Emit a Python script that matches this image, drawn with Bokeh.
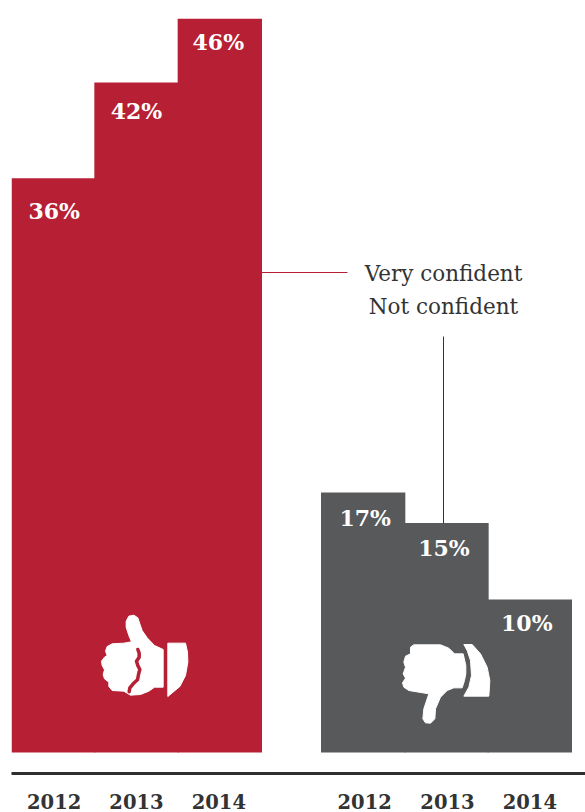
from bokeh.embed import file_html
from bokeh.resources import INLINE
from bokeh.models import ColumnDataSource, Range1d, FixedTicker
from bokeh.plotting import figure
from bokeh.core.properties import value

# Survey results by year
years = ["2012", "2013", "2014"]
very_confident = [36, 42, 46]
not_confident = [17, 15, 10]
legend_labels = ["Very confident", "Not confident"]

RED = "#B72034"
GREY = "#58595B"
INK = "#333333"
SERIF = "DejaVu Serif"

WIDTH, HEIGHT = 585, 812
LEFT, RULE_Y, BASE_Y = 11, 773, 752
BAR_W = 83.33
BAR_OVERLAP = 1.0
GROUP_STARTS = [11, 321]
PX_PER_UNIT_LEFT = 15.95
PX_PER_UNIT_RIGHT = 15.3


def value_range(px_per_unit):
    return Range1d(-(RULE_Y - BASE_Y) / px_per_unit, BASE_Y / px_per_unit)


p = figure(width=WIDTH, height=HEIGHT, output_backend="svg", toolbar_location=None,
           x_range=Range1d(LEFT, WIDTH), y_range=value_range(PX_PER_UNIT_LEFT),
           x_axis_location="below", y_axis_location=None,
           min_border_left=LEFT, min_border_right=0, min_border_top=0, min_border_bottom=HEIGHT - RULE_Y)
p.outline_line_color = None
p.background_fill_color = "white"
p.grid.visible = False
p.extra_y_ranges = {"right_group": value_range(PX_PER_UNIT_RIGHT), "px": Range1d(RULE_Y, 0)}


def draw_group(start, vals, color, dx, dy, range_name):
    centers = [start + BAR_W * (i + 0.5) for i in range(len(vals))]
    src = ColumnDataSource(dict(x=centers, top=vals, label=[f"{v}%" for v in vals],
                                dx=dx, dy=dy))
    kw = {} if range_name == "default" else {"y_range_name": range_name}
    p.vbar(x="x", top="top", bottom=0, width=BAR_W + BAR_OVERLAP, source=src, fill_color=color,
           line_color=None, **kw)
    p.text(x="x", y="top", text="label", source=src, text_color="white",
           text_font=value(SERIF), text_font_style="bold", text_font_size="22px",
           text_align="center", text_baseline="middle", x_offset="dx", y_offset="dy", **kw)
    return centers


c1 = draw_group(GROUP_STARTS[0], very_confident, RED, [1, 0, -1.5], [33, 28, 23], "default")
c2 = draw_group(GROUP_STARTS[1], not_confident, GREY, [2, -2.5, -3], [26, 25, 23], "right_group")

# Bottom rule and year labels, nudged to sit as set under each bar
ticks = [c + d for c, d in zip(c1 + c2, [1, 0, -1, 1.5, 1, 0])]
ax = p.xaxis[0]
ax.ticker = FixedTicker(ticks=ticks)
ax.major_label_overrides = {t: y for t, y in zip(ticks, years + years)}
ax.major_tick_line_color = None
ax.minor_tick_line_color = None
ax.axis_line_color = "#2f2f2f"
ax.axis_line_width = 3
ax.major_label_standoff = 14
ax.major_label_text_font = SERIF
ax.major_label_text_font_style = "bold"
ax.major_label_text_font_size = "19.5px"
ax.major_label_text_color = INK

# Legend text and its leader lines
p.text(x=[443, 443], y=[272.5, 305.5], text=legend_labels, y_range_name="px",
       text_color=INK, text_font=value(SERIF), text_font_size="21.5px",
       text_align="center", text_baseline="middle")
p.segment(x0=[261], y0=[272], x1=[347], y1=[272], y_range_name="px", line_color=RED, line_width=1)
p.segment(x0=[443], y0=[336], x1=[443], y1=[523], y_range_name="px", line_color=INK, line_width=1)


# Thumb icons, outlined on a local grid a third of a pixel wide
def place(points, ox, oy):
    return [ox + x / 3 for x, _ in points], [oy + y / 3 for _, y in points]


up_hand = [(137, 62), (145, 47), (160, 44), (172, 52), (178, 70), (185, 90), (200, 112), (222, 135),
           (248, 147), (248, 260), (222, 260), (205, 272), (180, 282), (150, 284), (130, 272), (95, 270),
           (85, 258), (85, 245), (72, 235), (68, 222), (72, 208), (65, 195), (63, 182), (72, 170),
           (80, 165), (75, 152), (80, 138), (95, 130), (130, 128), (153, 124), (145, 105), (137, 80)]
up_cuff = [(262, 128), (315, 128), (321, 155), (322, 185), (315, 225), (298, 258), (262, 288)]
up_fold = [(172, 147), (176, 158), (176, 170), (168, 182), (172, 195), (178, 207), (174, 222),
           (171, 238), (158, 250), (148, 262), (146, 274)]
down_hand = [(70, 58), (150, 58), (175, 68), (192, 85), (218, 85), (226, 120), (226, 145), (222, 165), (215, 187),
             (190, 187), (170, 195), (150, 215), (135, 250), (133, 280), (120, 293), (105, 292), (97, 280),
             (100, 250), (115, 205), (55, 195), (40, 185), (36, 172), (45, 158), (38, 145), (45, 125),
             (40, 110), (45, 92), (60, 85), (60, 65)]
down_cuff = [(220, 57), (245, 57), (270, 85), (290, 125), (298, 165), (295, 212), (220, 212), (235, 185),
             (243, 150), (240, 105), (230, 75)]

for shape, ox, oy in [(up_hand, 80, 600), (up_cuff, 80, 600), (down_hand, 390, 625), (down_cuff, 390, 625)]:
    xs, ys = place(shape, ox, oy)
    p.patch(xs, ys, y_range_name="px", fill_color="white", line_color="white", line_width=1, line_join="round")

xs, ys = place(up_fold, 80, 600)
p.line(xs, ys, y_range_name="px", line_color=RED, line_width=3.5, line_join="round", line_cap="round")

open("out.html", "w").write(file_html(p, INLINE))
